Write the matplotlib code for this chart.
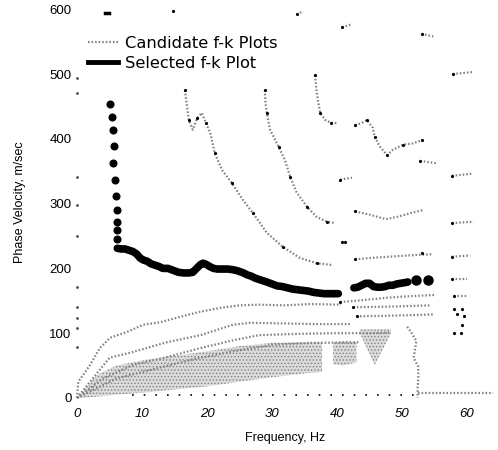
import numpy as np
import matplotlib.pyplot as plt
from matplotlib.lines import Line2D

plt.rcParams['font.family'] = ['Liberation Sans', 'DejaVu Sans']
plt.rcParams['hatch.linewidth'] = 0.6
plt.rcParams['hatch.color'] = '0.5'

# ---- selected f-k dispersion curve ----
sel_dot_f = [5.1, 5.4, 5.5, 5.7, 5.5, 5.8, 6.0, 6.1, 6.1, 6.1, 6.2]
sel_dot_v = [454, 434, 414, 389, 363, 336, 312, 290, 272, 259, 245]
sel_top_f = [4.3, 4.9]
sel_top_v = [594, 594]
sel_f = [6.2, 6.8, 7.4, 8.0, 8.6, 9.2, 9.7, 10.2, 10.8, 11.4, 12.0, 12.6, 13.2,
         14.0, 14.8, 15.6, 16.4, 17.2, 17.8, 18.4, 19.0, 19.4, 19.9, 20.4, 21.0,
         21.6, 22.4, 23.2, 24.0, 24.8, 25.6, 26.2, 26.8, 27.4, 28.0, 28.6, 29.2,
         30.0, 30.8, 31.6, 32.4, 33.2, 34.0, 34.8, 35.6, 36.4, 37.2, 38.0, 38.8,
         39.6, 40.2]
sel_v = [231, 230, 230, 228, 226, 222, 216, 213, 211, 207, 205, 203, 200,
         200, 197, 194, 193, 193, 194, 200, 206, 208, 206, 203, 200,
         199, 199, 199, 198, 196, 193, 190, 188, 185, 183, 181, 179,
         176, 173, 172, 170, 168, 167, 166, 165, 163, 162, 161, 161,
         161, 161]
sel2_f = [42.6, 43.2, 43.8, 44.4, 45.0, 45.6, 46.2, 46.8, 47.4, 48.0, 48.6,
          49.2, 49.8, 50.4, 50.9]
sel2_v = [170, 171, 174, 177, 177, 172, 171, 171, 172, 174, 174, 176, 177, 178, 179]
sel_end_f = [52.2, 54.0]
sel_end_v = [182, 182]

# ---- candidate f-k curves (higher modes) ----
cand_a_f = [16.6, 16.9, 17.2, 17.8, 18.5, 19.2, 19.8, 20.5, 21.2, 22.3, 23.8,
            25.5, 27.1, 29.2, 31.7, 34.3, 36.9, 39.4]
cand_a_v = [475, 452, 429, 414, 432, 440, 425, 409, 378, 352, 332,
            306, 285, 255, 233, 216, 208, 205]
cand_b_f = [28.9, 29.0, 29.2, 29.7, 31.0, 32.0, 32.8, 33.8, 35.4, 36.9, 38.5, 39.7]
cand_b_v = [475, 455, 440, 414, 388, 367, 341, 317, 295, 279, 272, 270]
cand_c_f = [36.6, 36.9, 37.4, 38.2, 39.0, 40.0]
cand_c_v = [498, 470, 440, 429, 425, 424]
cand_d_f = [42.8, 43.7, 44.6, 45.5, 45.8, 46.6, 47.7, 48.6, 50.2, 51.7, 53.1]
cand_d_v = [421, 424, 429, 417, 403, 388, 375, 383, 391, 393, 398]

# short candidate fragments
seg_f = [[14.8, 15.2], [33.8, 34.8], [40.8, 42.3], [53.0, 54.8], [57.8, 60.8],
         [52.8, 55.4], [57.7, 60.8], [40.5, 42.3],
         [42.8, 45.0, 47.5, 49.5, 51.5, 53.2], [57.7, 61.0],
         [42.8, 45.0, 48.0, 51.0, 54.8], [57.7, 60.5], [57.7, 60.0],
         [40.5, 45.0, 48.0, 51.0, 55.0], [58.0, 60.0],
         [42.5, 48.0, 54.5], [43.0, 48.0, 52.0, 55.0]]
seg_v = [[598, 598], [592, 597], [572, 577], [562, 558], [500, 503],
         [366, 362], [343, 346], [337, 340],
         [288, 283, 276, 280, 286, 290], [270, 272],
         [214, 216, 218, 220, 222], [218, 220], [184, 184],
         [148, 152, 155, 157, 159], [157, 157],
         [140, 141, 143], [126, 127, 128, 129]]

# ---- fundamental-mode candidate fan ----
band1_f = [0, 0.2, 2, 3.5, 5.1, 7.7, 10.2, 12.8, 15.8, 18.9, 22, 25, 28, 32, 36, 40.6]
band1_v = [0, 25, 51, 77, 93, 102, 113, 117, 125, 133, 139, 143, 144, 143, 145, 144]
band2_f = [0, 2, 5, 8.6, 13.8, 19, 24, 26.6, 32, 37, 42]
band2_v = [0, 25, 62, 71, 86, 97, 113, 116, 115, 114, 114]
band3_f = [0, 4, 8.6, 13.8, 19, 24, 28, 34, 40, 45, 48]
band3_v = [0, 30, 51, 63, 77, 89, 97, 99, 100, 100, 101]
band4_f = [0, 6, 12, 18, 24, 30, 36, 43.5]
band4_v = [0, 30, 45, 60, 72, 82, 85, 86]

dense_f = [0, 3, 6, 10, 15, 20, 25, 30, 35, 37.7]
dense_lo = [0, 2, 5, 8, 13, 18, 25, 32, 38, 40]
dense_hi = [0, 35, 50, 58, 65, 72, 80, 85, 86, 86]
lobe_f = [39.4, 41, 43]
lobe_lo = [52, 50, 55]
lobe_hi = [86, 88, 86]
vee_f = [43.5, 45.8, 48.3]
vee_lo = [100, 51, 100]
vee_hi = [106, 106, 106]
trail_f = [50.8, 51.5, 52.2, 51.8, 52.5, 52.5, 52.4, 52.4]
trail_v = [110, 100, 88, 62, 48, 30, 15, 0]

floor_f = [8.5, 52.0]
floor_v = [4, 4]
tail_f = [52.5, 64.0]
tail_v = [8, 8]

edge_f = [0.05, 0.0, 0.05, 0.0, 0.0, 0.05, 0.0, 0.0, 0.0, 0.0]
edge_v = [494, 470, 341, 298, 250, 171, 140, 123, 108, 79]
col_f = [58.0, 59.2, 58.5, 59.5, 59.2, 58.0, 59.0, 40.8, 41.2, 53.1]
col_v = [137, 137, 130, 126, 113, 100, 100, 241, 241, 224]

x_ticks = [0, 10, 20, 30, 40, 50, 60]
y_ticks = [0, 100, 200, 300, 400, 500, 600]

fig = plt.figure(figsize=(4.98, 4.5), dpi=100)
ax = fig.add_axes([75 / 498, 50 / 450, 421 / 498, 395 / 450])

cand_style = dict(color='0.5', lw=1.6, ls=(0, (0.7, 0.9)), solid_capstyle='butt')
speck = dict(ls='none', marker='.', ms=2.5, color='k')

# stippled fundamental-mode region
for f, lo, hi in [(dense_f, dense_lo, dense_hi), (lobe_f, lobe_lo, lobe_hi),
                  (vee_f, vee_lo, vee_hi)]:
    ax.fill_between(f, lo, hi, facecolor='0.86', edgecolor='0.5',
                    hatch='.....', lw=0)

for f, v in [(band1_f, band1_v), (band2_f, band2_v), (band3_f, band3_v),
             (band4_f, band4_v), (trail_f, trail_v)]:
    ax.plot(f, v, **cand_style)

for f, v in [(cand_a_f, cand_a_v), (cand_b_f, cand_b_v), (cand_c_f, cand_c_v),
             (cand_d_f, cand_d_v)]:
    ax.plot(f, v, **cand_style)
    ax.plot(f[::2], v[::2], **speck)

for f, v in zip(seg_f, seg_v):
    ax.plot(f, v, **cand_style)
    ax.plot(f[:1], v[:1], **speck)

ax.plot(floor_f, floor_v, color='k', lw=1.2, ls=(0, (1, 6)))
ax.plot(tail_f, tail_v, **cand_style)
ax.plot(edge_f, edge_v, ls='none', marker='.', ms=2, color='0.3')
ax.plot(col_f, col_v, **speck)

# selected curve
ax.plot(sel_dot_f, sel_dot_v, ls='none', marker='o', ms=4.8, color='k')
ax.plot(sel_top_f, sel_top_v, color='k', lw=2.5)
ax.plot(sel_f, sel_v, color='k', lw=5.5, solid_capstyle='round',
        solid_joinstyle='round')
ax.plot(sel2_f, sel2_v, color='k', lw=5.5, solid_capstyle='round',
        solid_joinstyle='round')
ax.plot(sel_end_f, sel_end_v, ls='none', marker='o', ms=6.5, color='k')

ax.set_xlim(-0.31, 64.46)
ax.set_ylim(-3.1, 606.5)
for s in ax.spines.values():
    s.set_visible(False)
ax.set_xticks(x_ticks)
ax.set_yticks(y_ticks)
ax.tick_params(length=0)
ax.tick_params(axis='x', pad=5.5, labelsize=9.5)
ax.tick_params(axis='y', pad=2.5, labelsize=9.5)
for lbl in ax.get_xticklabels():
    lbl.set_fontstyle('italic')

ax.set_xlabel('Frequency, Hz', fontsize=9, labelpad=9)
ax.set_ylabel('Phase Velocity, m/sec', fontsize=9, labelpad=17)

handles = [Line2D([], [], **cand_style), Line2D([], [], color='k', lw=3.5)]
ax.legend(handles, ['Candidate f-k Plots', 'Selected f-k Plot'],
          loc='upper left', bbox_to_anchor=(88 / 498, 1 - 36 / 450),
          bbox_transform=fig.transFigure, frameon=False, borderpad=0,
          borderaxespad=0, handlelength=1.85, handletextpad=0.45,
          labelspacing=0.3, prop={'family': 'DejaVu Sans', 'size': 11.7})

fig.savefig('out.png', dpi=100)
